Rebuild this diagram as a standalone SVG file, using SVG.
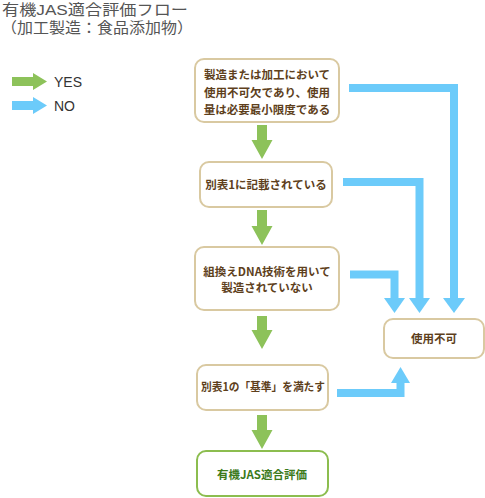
<svg xmlns="http://www.w3.org/2000/svg" width="485" height="498" viewBox="0 0 485 498">
<style>
.title{font-family:"Liberation Sans","Noto Sans CJK JP",sans-serif;font-size:15px;fill:#555}
.leg{font-family:"Liberation Sans",sans-serif;font-size:14px;fill:#333}
.box{fill:#fff;stroke:#d9c9a1;stroke-width:2}
.gbox{fill:#fff;stroke:#8cbd4f;stroke-width:2}
.t{font-family:"Noto Sans CJK JP","Liberation Sans",sans-serif;font-size:11.5px;font-weight:bold;fill:#5e3f1c;text-anchor:middle}
.gt{fill:#3b7a1a}
.yes{fill:#8dc25a}
.no{fill:#6ccbfa}
.nol{fill:none;stroke:#6ccbfa;stroke-width:8}
</style>
<rect width="485" height="498" fill="#fff"/>
<text class="title" x="2" y="15" textLength="186" lengthAdjust="spacingAndGlyphs">有機JAS適合評価フロー</text>
<text class="title" x="1" y="33" textLength="192" lengthAdjust="spacingAndGlyphs">（加工製造：食品添加物）</text>
<g id="legend">
<polygon class="yes" points="12,77 33,77 33,73 47,81.5 33,90 33,86 12,86"/>
<text class="leg" x="54" y="87">YES</text>
<polygon class="no" points="12,101 33,101 33,97 47,105.5 33,114 33,110 12,110"/>
<text class="leg" x="54" y="111">NO</text>
</g>
<g id="connectors">
<polygon class="yes" points="257,125 267,125 267,140 272.5,140 262,159 251.5,140 257,140"/>
<polygon class="yes" points="257,210 267,210 267,226 272.5,226 262,245 251.5,226 257,226"/>
<polygon class="yes" points="257,316 267,316 267,330 272.5,330 262,349 251.5,330 257,330"/>
<polygon class="yes" points="257,415 267,415 267,430 272.5,430 262,449 251.5,430 257,430"/>
<path class="nol" d="M349,88 H454 V299"/>
<polygon class="no" points="443,298 465,298 454,313"/>
<path class="nol" d="M343,182 H419.5 V299"/>
<polygon class="no" points="409,298 430,298 419.5,313"/>
<path class="nol" d="M350,274.5 H394.5 V299"/>
<polygon class="no" points="384,298 405,298 394.5,313"/>
<path class="nol" d="M337,393 H400.5 V382"/>
<polygon class="no" points="391,383 410,383 400.5,367"/>
</g>
<g id="n1">
<rect class="box" x="195" y="59" width="144" height="63" rx="9"/>
<text class="t" x="267" y="79">製造または加工において</text>
<text class="t" x="267" y="97">使用不可欠であり、使用</text>
<text class="t" x="267" y="114">量は必要最小限度である</text>
</g>
<g id="n2">
<rect class="box" x="200" y="162" width="132" height="45" rx="9"/>
<text class="t" x="266" y="189">別表1に記載されている</text>
</g>
<g id="n3">
<rect class="box" x="195" y="247" width="144" height="63" rx="9"/>
<text class="t" x="267" y="276">組換えDNA技術を用いて</text>
<text class="t" x="267" y="292">製造されていない</text>
</g>
<g id="n4">
<rect class="box" x="197" y="365" width="131" height="45" rx="9"/>
<text class="t" x="263" y="391" textLength="124" lengthAdjust="spacingAndGlyphs">別表1の「基準」を満たす</text>
</g>
<g id="n5">
<rect class="gbox" x="197" y="451" width="131" height="45" rx="9"/>
<text class="t gt" x="262" y="479">有機JAS適合評価</text>
</g>
<g id="n6">
<rect class="box" x="384" y="319" width="100" height="39" rx="9"/>
<text class="t" x="434" y="343">使用不可</text>
</g>
</svg>
